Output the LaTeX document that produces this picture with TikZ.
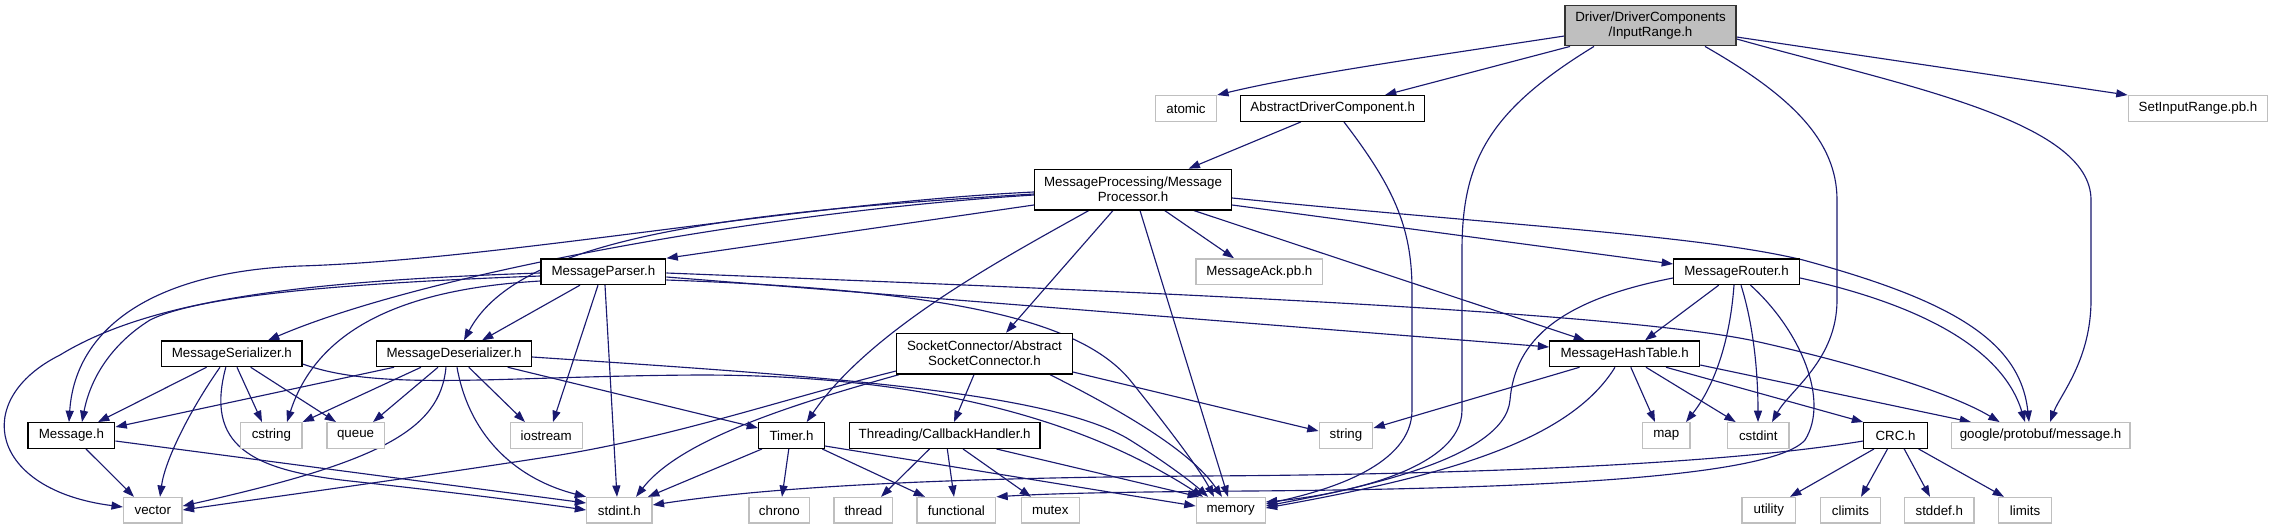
\documentclass[tikz,border=0pt]{standalone}
\usepackage{fontspec}
\setmainfont{Liberation Sans}
\usetikzlibrary{arrows.meta,calc}
\definecolor{edgecol}{HTML}{191970}
\definecolor{extgray}{HTML}{BFBFBF}
\pgfdeclarelayer{bottom}
\pgfdeclarelayer{edges}
\pgfsetlayers{bottom,edges,main}
\tikzset{
  nd/.style={rectangle, inner sep=0pt, minimum height=19.2pt, line width=1pt,
    font=\fontsize{10}{11.25}\selectfont, align=center, text=black},
  doc/.style={nd, draw=black, fill=white},
  ext/.style={nd, draw=extgray, fill=white},
  mainnode/.style={nd, draw=black!80, fill=extgray},
  tall/.style={minimum height=30.4pt},
  bw/.style={minimum width=#1*0.75pt},
  dep/.style={draw=edgecol, line width=0.85pt, -{Triangle[length=8.5pt,width=6pt]}}
}
\begin{document}
\begin{tikzpicture}[x=0.75pt,y=-0.75pt]
\begin{pgfonlayer}{bottom}
\fill[white] (0,0) rectangle (2273,529);
\end{pgfonlayer}
\path[use as bounding box] (0,0) rectangle (2273,529);

% ---------- nodes ----------
\node[mainnode,tall,bw=171] (IR) at (1650.5,25.5) {Driver/DriverComponents\\/InputRange.h};
\node[ext,bw=61] (atomic) at (1186,108.5) {atomic};
\node[doc,bw=184] (ADC) at (1332.7,108.5) {AbstractDriverComponent.h};
\node[ext,bw=139.5] (SIR) at (2198,108.5) {SetInputRange.pb.h};
\node[doc,tall,bw=197] (MP) at (1133,189.6) {MessageProcessing/Message\\Processor.h};
\node[ext,bw=126.7] (MAck) at (1259.4,271.7) {MessageAck.pb.h};
\node[doc,bw=124.8] (MParser) at (603.4,271.7) {MessageParser.h};
\node[doc,bw=125.8] (MRouter) at (1736.6,271.7) {MessageRouter.h};
\node[doc,bw=140.3] (MSer) at (231.9,353.8) {MessageSerializer.h};
\node[doc,bw=155] (MDes) at (454,353.8) {MessageDeserializer.h};
\node[doc,tall,bw=175.5] (Sock) at (984.5,353.7) {SocketConnector/Abstract\\SocketConnector.h};
\node[doc,bw=149.8] (MHT) at (1624.7,353.8) {MessageHashTable.h};
\node[doc,bw=86.8] (MsgH) at (71.4,435.5) {Message.h};
\node[ext,bw=61.2] (cstring) at (271.4,435.5) {cstring};
\node[ext,bw=57.2] (queue) at (355.6,435.5) {queue};
\node[ext,bw=72] (iostream) at (546.2,435.5) {iostream};
\node[doc,bw=65.6] (Timer) at (791.5,435.5) {Timer.h};
\node[doc,bw=190.8] (CBH) at (944.7,435.5) {Threading/CallbackHandler.h};
\node[ext,bw=53.6] (string) at (1346,435.5) {string};
\node[ext,bw=47.5] (map) at (1666.3,435.5) {map};
\node[ext,bw=61.5] (cstdint) at (1758.3,435.5) {cstdint};
\node[doc,bw=63.4] (CRC) at (1895.5,435.5) {CRC.h};
\node[ext,bw=178.6] (google) at (2040.6,435.5) {google/protobuf/message.h};
\node[ext,bw=58.6] (vector) at (152.8,510.3) {vector};
\node[ext,bw=65.3] (stdint) at (619.4,510.3) {stdint.h};
\node[ext,bw=60.5] (chrono) at (779.3,510.3) {chrono};
\node[ext,bw=58.7] (thread) at (863.4,510.3) {thread};
\node[ext,bw=78.6] (functional) at (956.4,510.3) {functional};
\node[ext,bw=58.2] (mutex) at (1050.3,510.3) {mutex};
\node[ext,bw=68.9] (memory) at (1230.7,510.3) {memory};
\node[ext,bw=53.8] (utility) at (1768.8,510.3) {utility};
\node[ext,bw=59.6] (climits) at (1850.4,510.3) {climits};
\node[ext,bw=69.1] (stddef) at (1939.3,510.3) {stddef.h};
\node[ext,bw=53.3] (limits) at (2025,510.3) {limits};

% ---------- edges ----------
\begin{pgfonlayer}{edges}
% InputRange
\draw[dep] (IR.west |- 0,36) .. controls (1420,58) and (1300,75) .. (atomic.north east);
\draw[dep] (1570,0 |- IR.south) -- (1385,0 |- ADC.north);
\draw[dep] (1594,0 |- IR.south) .. controls (1490,110) and (1462,160) .. (1462,250) -- (1462,410) .. controls (1462,470) and (1340,495) .. (memory.east |- 0,502);
\draw[dep] (1705,0 |- IR.south) .. controls (1790,95) and (1837,140) .. (1837,200) -- (1837,300) .. controls (1837,360) and (1790,390) .. (1772,0 |- cstdint.north);
\draw[dep] (IR.east |- 0,39) .. controls (1900,85) and (2091,120) .. (2091,200) -- (2091,300) .. controls (2091,360) and (2060,395) .. (2050,0 |- google.north);
\draw[dep] (IR.east |- 0,37) -- (SIR.north west);
% AbstractDriverComponent
\draw[dep] (1300.8,0 |- ADC.south) -- (1188.6,0 |- MP.north);
\draw[dep] (1344,0 |- ADC.south) .. controls (1392,185) and (1412,225) .. (1412,290) -- (1412,410) .. controls (1412,465) and (1330,490) .. (memory.east |- 0,504);
% MessageProcessor
\draw[dep] (MP.west |- 0,205) -- (MParser.north east);
\draw[dep] (MP.west |- 0,192) .. controls (800,203) and (500,260) .. (300,266) .. controls (150,272) and (75,330) .. (69,0 |- MsgH.north);
\draw[dep] (MP.west |- 0,195) .. controls (760,212) and (420,275) .. (268,0 |- MSer.north);
\draw[dep] (MP.west |- 0,194) .. controls (740,212) and (520,235) .. (464,0 |- MDes.north);
\draw[dep] (1088.8,0 |- MP.south) .. controls (1000,260) and (870,330) .. (806.7,0 |- Timer.north);
\draw[dep] (1113,0 |- MP.south) -- (1006,0 |- Sock.north);
\draw[dep] (1140,0 |- MP.south) -- (1228,0 |- memory.north);
\draw[dep] (1164.7,0 |- MP.south) -- (1234,0 |- MAck.north);
\draw[dep] (1193.8,0 |- MP.south) -- (1585,0 |- MHT.north);
\draw[dep] (MP.east |- 0,205) -- (MRouter.west |- 0,264);
\draw[dep] (MP.east |- 0,198) .. controls (1500,225) and (1700,235) .. (1803,260) .. controls (1950,300) and (2020,340) .. (2029,0 |- google.north);
% MessageParser
\draw[dep] (MParser.west |- 0,276) .. controls (350,283) and (200,295) .. (150,320) .. controls (110,345) and (90,380) .. (82,0 |- MsgH.north);
\draw[dep] (MParser.west |- 0,273) .. controls (300,281) and (150,300) .. (60,355) .. controls (-30,400) and (-10,490) .. (vector.west |- 0,507);
\draw[dep] (MParser.west |- 0,281) .. controls (420,288) and (320,320) .. (287,0 |- cstring.north);
\draw[dep] (580,0 |- MParser.south) -- (482,0 |- MDes.north);
\draw[dep] (598,0 |- MParser.south) -- (553,0 |- iostream.north);
\draw[dep] (605,0 |- MParser.south) -- (617,0 |- stdint.north);
\draw[dep] (MParser.east |- 0,277) -- (MHT.west |- 0,347);
\draw[dep] (MParser.east |- 0,273) .. controls (1100,290) and (1600,310) .. (1750,340) .. controls (1850,362) and (1950,392) .. (1999.6,0 |- google.north);
\draw[dep] (MParser.east |- 0,280) .. controls (950,290) and (1080,320) .. (1130,380) .. controls (1170,430) and (1200,470) .. (1214,0 |- memory.north);
% MessageSerializer
\draw[dep] (206.6,0 |- MSer.south) -- (98,0 |- MsgH.north);
\draw[dep] (220,0 |- MSer.south) .. controls (190,410) and (165,460) .. (160,0 |- vector.north);
\draw[dep] (225.8,0 |- MSer.south) .. controls (205,445) and (250,470) .. (350,481) .. controls (450,492) and (530,502) .. (stdint.west |- 0,510);
\draw[dep] (237,0 |- MSer.south) -- (262,0 |- cstring.north);
\draw[dep] (250.7,0 |- MSer.south) -- (336,0 |- queue.north);
\draw[dep] (MSer.east |- 0,364) .. controls (380,392) and (500,376) .. (700,375) .. controls (950,375) and (1100,430) .. (1203,0 |- memory.north);
% MessageDeserializer
\draw[dep] (394,0 |- MDes.south) -- (MsgH.east |- 0,427);
\draw[dep] (421,0 |- MDes.south) -- (cstring.north east);
\draw[dep] (438,0 |- MDes.south) -- (373,0 |- queue.north);
\draw[dep] (446,0 |- MDes.south) .. controls (440,430) and (380,462) .. (vector.east |- 0,506);
\draw[dep] (457,0 |- MDes.south) .. controls (470,440) and (520,480) .. (stdint.north west);
\draw[dep] (468.8,0 |- MDes.south) -- (525,0 |- iostream.north);
\draw[dep] (507.7,0 |- MDes.south) -- (Timer.west |- 0,428);
\draw[dep] (MDes.east |- 0,357) .. controls (800,375) and (1050,390) .. (1130,440) .. controls (1170,465) and (1195,485) .. (1208,0 |- memory.north);
% Message.h
\draw[dep] (86,0 |- MsgH.south) -- (134,0 |- vector.north);
\draw[dep] (MsgH.east |- 0,441) -- (stdint.west |- 0,503);
% Timer.h
\draw[dep] (788.8,0 |- Timer.south) -- (782,0 |- chrono.north);
\draw[dep] (762,0 |- Timer.south) -- (648,0 |- stdint.north);
\draw[dep] (822.3,0 |- Timer.south) -- (925,0 |- functional.north);
\draw[dep] (Timer.east |- 0,446) -- (memory.west |- 0,506);
% CallbackHandler
\draw[dep] (929.5,0 |- CBH.south) -- (881,0 |- thread.north);
\draw[dep] (947.3,0 |- CBH.south) -- (954,0 |- functional.north);
\draw[dep] (963,0 |- CBH.south) -- (1031,0 |- mutex.north);
\draw[dep] (996.4,0 |- CBH.south) -- (1199,0 |- memory.north);
% SocketConnector
\draw[dep] (974,0 |- Sock.south) -- (954,0 |- CBH.north);
\draw[dep] (899,0 |- Sock.south) .. controls (790,405) and (680,440) .. (636,0 |- stdint.north);
\draw[dep] (Sock.west |- 0,371) .. controls (780,400) and (680,435) .. (560,455) .. controls (400,480) and (250,500) .. (vector.east |- 0,510);
\draw[dep] (1050,0 |- Sock.south) .. controls (1120,410) and (1190,450) .. (1222,0 |- memory.north);
\draw[dep] (Sock.east |- 0,372) -- (string.west |- 0,431);
% MessageRouter
\draw[dep] (1718.75,0 |- MRouter.south) -- (1645,0 |- MHT.north);
\draw[dep] (1734,0 |- MRouter.south) .. controls (1730,340) and (1715,385) .. (1686,0 |- map.north);
\draw[dep] (1741,0 |- MRouter.south) .. controls (1755,330) and (1758,380) .. (1758,0 |- cstdint.north);
\draw[dep] (1750.5,0 |- MRouter.south) .. controls (1800,330) and (1830,400) .. (1805,440) .. controls (1770,480) and (1500,489) .. (1250,491) .. controls (1100,492) and (1040,494) .. (functional.north east);
\draw[dep] (MRouter.west |- 0,278) .. controls (1560,300) and (1515,340) .. (1510,400) .. controls (1505,460) and (1350,490) .. (memory.east |- 0,506);
\draw[dep] (MRouter.east |- 0,278) .. controls (1900,300) and (2000,340) .. (2025,0 |- google.north);
% MessageHashTable
\draw[dep] (1579.5,0 |- MHT.south) -- (string.east |- 0,428);
\draw[dep] (1615,0 |- MHT.south) .. controls (1570,440) and (1450,475) .. (memory.east |- 0,508);
\draw[dep] (1630.8,0 |- MHT.south) -- (1655,0 |- map.north);
\draw[dep] (1646,0 |- MHT.south) -- (1735.7,0 |- cstdint.north);
\draw[dep] (1666,0 |- MHT.south) -- (CRC.north west);
\draw[dep] (MHT.east |- 0,365) -- (1971,0 |- google.north);
% CRC.h
\draw[dep] (1874,0 |- CRC.south) -- (1790,0 |- utility.north);
\draw[dep] (1887.5,0 |- CRC.south) -- (1861,0 |- climits.north);
\draw[dep] (1904.2,0 |- CRC.south) -- (1930,0 |- stddef.north);
\draw[dep] (1918.6,0 |- CRC.south) -- (2004,0 |- limits.north);
\draw[dep] (CRC.west |- 0,441) .. controls (1700,468) and (1400,475) .. (1200,476) .. controls (900,478) and (750,490) .. (stdint.east |- 0,505);
\end{pgfonlayer}
\end{tikzpicture}
\end{document}
